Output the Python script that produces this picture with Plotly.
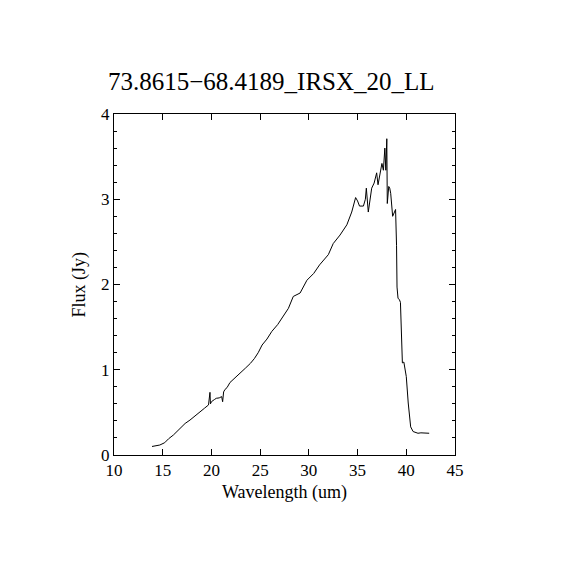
import plotly.graph_objects as go

# spectrum (wavelength in um, flux in Jy)
wavelength = [13.9, 14.3, 14.7, 15.2, 15.6, 16.1, 16.5, 16.8, 17.3, 17.8,
              18.3, 18.8, 19.3, 19.7, 19.85, 19.9, 20.0, 20.3, 20.5, 20.8,
              21.05, 21.15, 21.25, 21.4, 21.6, 21.9, 22.4, 22.9, 23.5, 24.0,
              24.4, 24.8, 25.2, 25.7, 26.2, 26.8, 27.4, 27.9, 28.4, 29.1,
              29.8, 30.5, 31.1, 31.6, 32.0, 32.5, 33.2, 33.9, 34.4, 34.8,
              35.0, 35.2, 35.6, 35.8, 35.9, 36.1, 36.3, 36.45, 36.7, 36.96,
              37.1, 37.3, 37.5, 37.65, 37.8, 37.9, 38.0, 38.05, 38.2, 38.3,
              38.4, 38.6, 38.9, 39.0, 39.05, 39.15, 39.3, 39.4, 39.5, 39.6,
              39.75, 40.0, 40.2, 40.45, 40.7, 41.0, 41.2, 41.5, 41.75, 42.0,
              42.35]
flux = [0.10, 0.105, 0.117, 0.144, 0.19, 0.235, 0.28, 0.325, 0.37, 0.41,
        0.46, 0.51, 0.55, 0.587, 0.735, 0.60, 0.625, 0.65, 0.665, 0.67,
        0.685, 0.625, 0.74, 0.77, 0.79, 0.85, 0.90, 0.96, 1.02, 1.075,
        1.13, 1.20, 1.29, 1.36, 1.45, 1.53, 1.63, 1.72, 1.86, 1.90,
        2.05, 2.13, 2.23, 2.29, 2.35, 2.48, 2.58, 2.70, 2.85, 3.02,
        2.98, 2.92, 2.92, 3.0, 3.13, 2.85, 3.05, 3.13, 3.19, 3.31,
        3.17, 3.3, 3.42, 3.34, 3.60, 3.34, 3.71, 2.95, 3.15, 3.13,
        3.07, 2.80, 2.88, 2.46, 1.97, 1.84, 1.82, 1.79, 1.45, 1.08,
        1.09, 0.92, 0.61, 0.33, 0.275, 0.26, 0.255, 0.26, 0.26, 0.255,
        0.255]

title = "73.8615\u221268.4189_IRSX_20_LL"
x_label = "Wavelength (um)"
y_label = "Flux (Jy)"
x_ticks = [10, 15, 20, 25, 30, 35, 40, 45]
y_ticks = [0, 1, 2, 3, 4]

FONT = "Liberation Serif"

fig = go.Figure()
fig.add_trace(go.Scatter(x=wavelength, y=flux, mode="lines",
                         line=dict(color="black", width=1), showlegend=False))

axis_style = dict(showline=True, linecolor="black", linewidth=1, mirror="ticks",
                  ticks="inside", tickcolor="black", ticklen=6, showgrid=False,
                  zeroline=False, tickfont=dict(family=FONT, size=17, color="black"))

fig.update_xaxes(range=[10, 45], tickvals=x_ticks, **axis_style)
fig.update_yaxes(range=[0, 4], tickvals=y_ticks,
                 minor=dict(ticks="inside", dtick=0.2, ticklen=3, tickcolor="black"),
                 **axis_style)

fig.add_annotation(text=title, xref="paper", yref="paper", x=0.463, y=1.094,
                   showarrow=False, xanchor="center", yanchor="middle",
                   font=dict(family=FONT, size=25, color="black"))
fig.add_annotation(text=x_label, xref="paper", yref="paper", x=0.5, y=-0.109,
                   showarrow=False, xanchor="center", yanchor="middle",
                   font=dict(family=FONT, size=18, color="black"))
fig.add_annotation(text=y_label, xref="paper", yref="paper", x=-0.10, y=0.5,
                   showarrow=False, xanchor="center", yanchor="middle", textangle=-90,
                   font=dict(family=FONT, size=18, color="black"))

# page body adds ~8px offset, so shift the plot area up/left to match
fig.update_layout(width=570, height=570, margin=dict(l=106, r=123, t=106, b=123),
                  plot_bgcolor="white", paper_bgcolor="white")

fig.write_html("out.html")
